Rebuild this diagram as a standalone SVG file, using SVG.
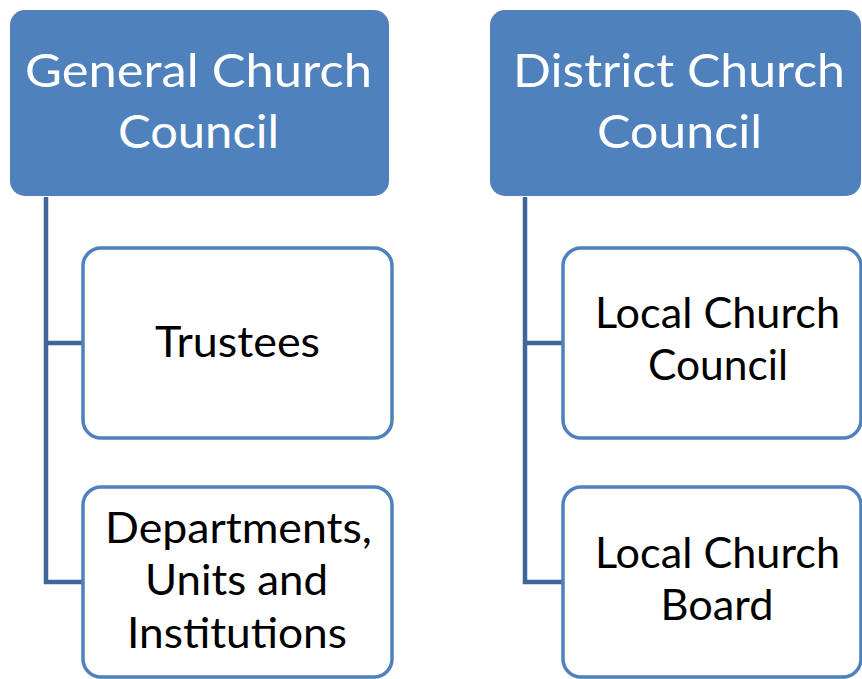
<svg xmlns="http://www.w3.org/2000/svg" width="862" height="679" viewBox="0 0 862 679">
<style>
.top rect{fill:#4F81BD;}
.top text{fill:#FFFFFF;font-family:Lato,"Open Sans",sans-serif;font-size:47px;text-anchor:middle;}
.child rect{fill:#FFFFFF;stroke:#4F81BD;stroke-width:3.5;}
.child text{fill:#000000;font-family:Lato,"Open Sans",sans-serif;font-size:43px;text-anchor:middle;}
.conn{fill:none;stroke:#3F6699;stroke-width:4.5;}
</style>
<rect width="862" height="679" fill="#FFFFFF"/>
<g id="connectors">
<path class="conn" d="M46,197 V582 H83 M46,343 H83"/>
<path class="conn" d="M525,197 V582 H563 M525,343 H563"/>
</g>
<g id="general-church-council" class="top">
<rect x="10" y="10" width="379" height="186" rx="15"/>
<text x="198.5" y="87" textLength="347" lengthAdjust="spacingAndGlyphs">General Church</text>
<text x="198.5" y="148" textLength="161" lengthAdjust="spacingAndGlyphs">Council</text>
</g>
<g id="district-church-council" class="top">
<rect x="490" y="10" width="371" height="186" rx="15"/>
<text x="679" y="87" textLength="332" lengthAdjust="spacingAndGlyphs">District Church</text>
<text x="679.5" y="148" textLength="165" lengthAdjust="spacingAndGlyphs">Council</text>
</g>
<g id="trustees" class="child">
<rect x="83" y="248" width="309" height="190" rx="18"/>
<text x="237.5" y="357" textLength="165" lengthAdjust="spacingAndGlyphs">Trustees</text>
</g>
<g id="departments" class="child">
<rect x="83" y="487" width="309" height="190" rx="18"/>
<text x="238.5" y="543" textLength="267" lengthAdjust="spacingAndGlyphs">Departments,</text>
<text x="236.5" y="595" textLength="183" lengthAdjust="spacingAndGlyphs">Units and</text>
<text x="237" y="648" textLength="220" lengthAdjust="spacingAndGlyphs">Institutions</text>
</g>
<g id="local-church-council" class="child">
<rect x="563" y="248" width="298" height="190" rx="18"/>
<text x="717.5" y="328" textLength="245" lengthAdjust="spacingAndGlyphs">Local Church</text>
<text x="718" y="380" textLength="140" lengthAdjust="spacingAndGlyphs">Council</text>
</g>
<g id="local-church-board" class="child">
<rect x="563" y="487" width="298" height="190" rx="18"/>
<text x="717.5" y="568" textLength="245" lengthAdjust="spacingAndGlyphs">Local Church</text>
<text x="717" y="620" textLength="113" lengthAdjust="spacingAndGlyphs">Board</text>
</g>
</svg>
